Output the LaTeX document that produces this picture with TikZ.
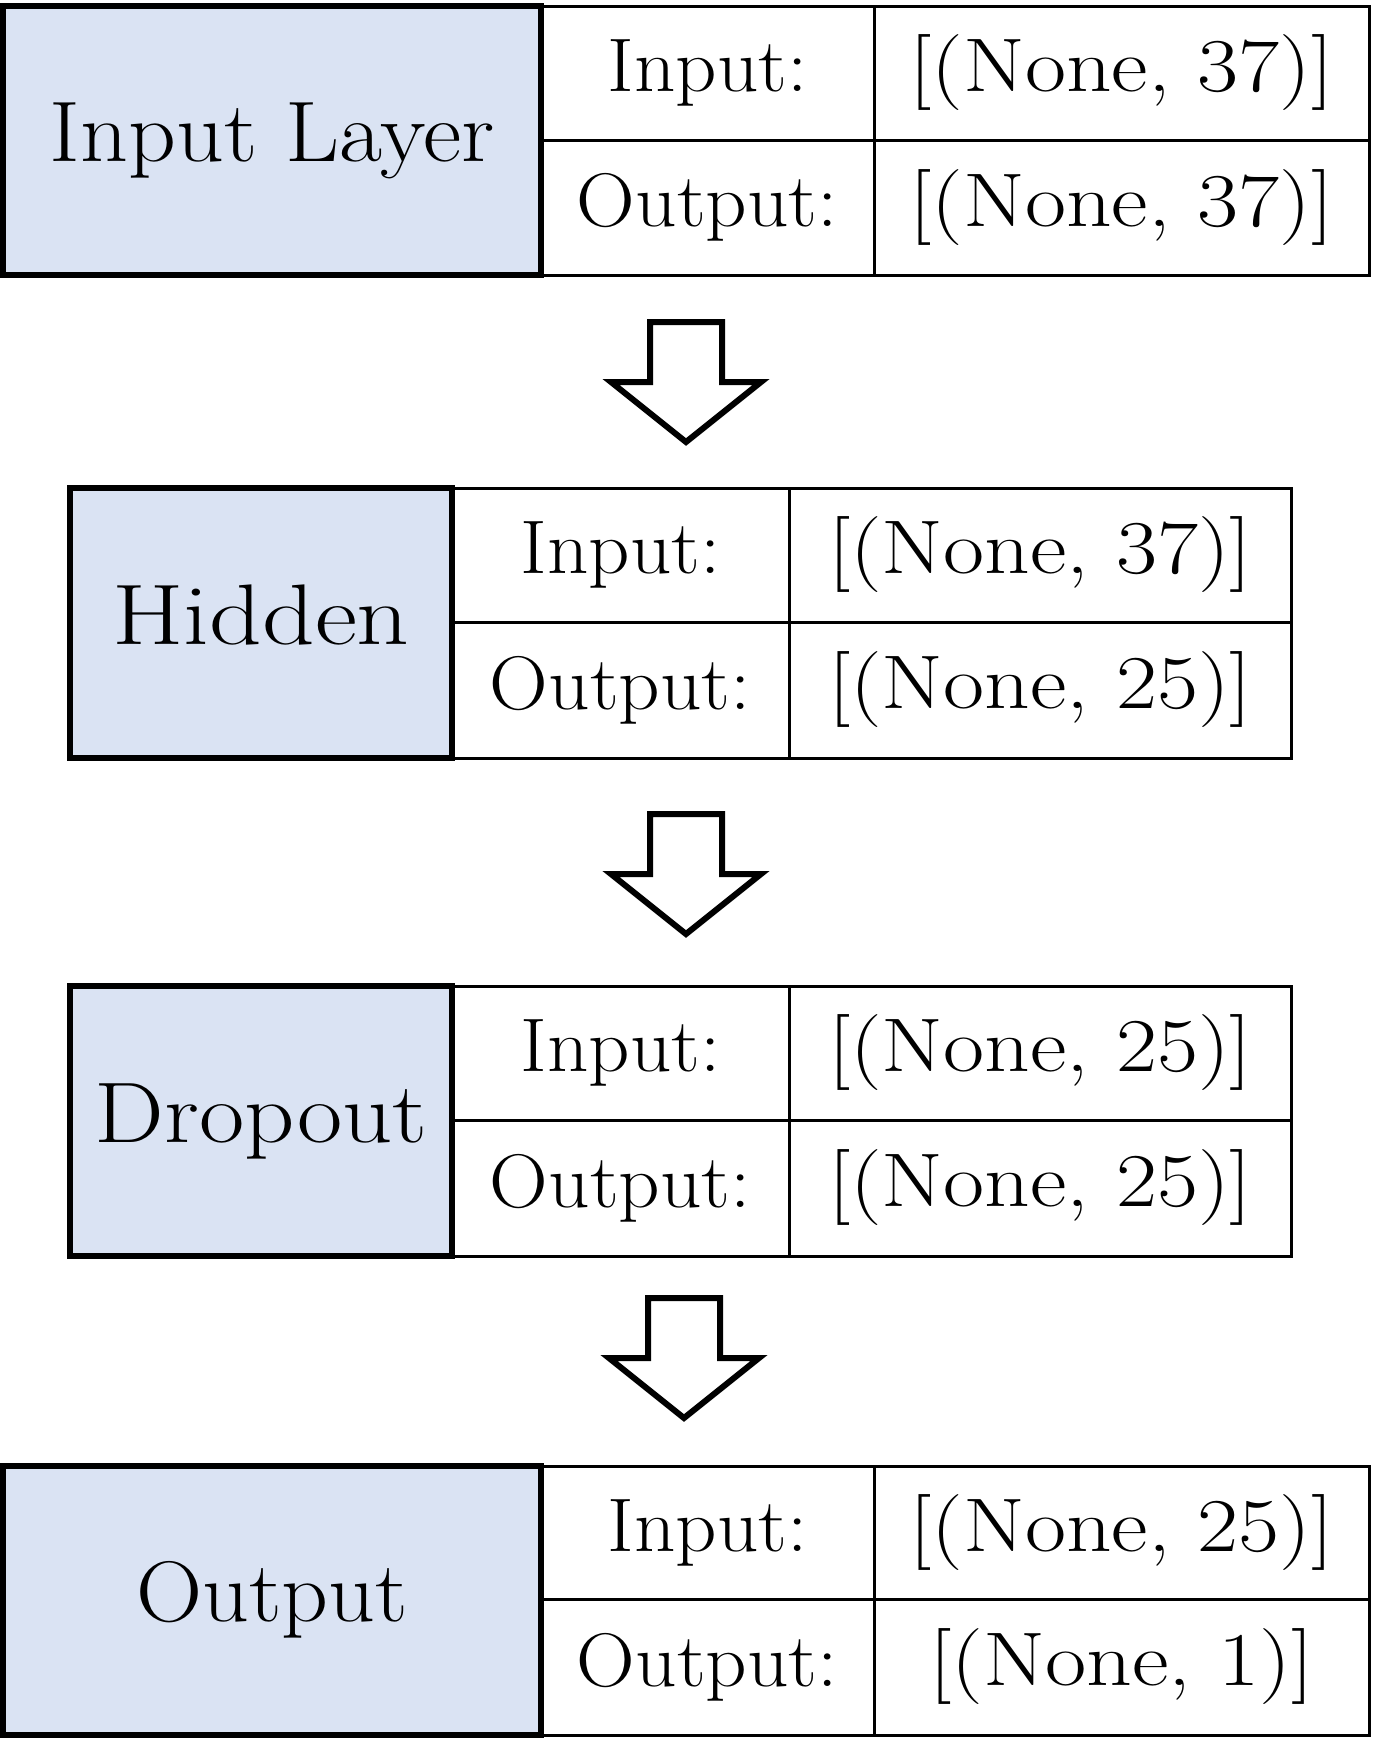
\documentclass[tikz,border=0pt]{standalone}
\usepackage{fontspec}
\usepackage{graphicx}
\definecolor{layerblue}{HTML}{DAE3F3}
\newcommand{\wide}[2]{\scalebox{#1}[1]{#2}}
\tikzset{
  layerbox/.style={draw, line width=3pt, fill=layerblue, inner sep=0pt, text height=30pt, text depth=9pt, font=\fontsize{43}{50}\selectfont},
  cellbox/.style={draw, line width=1.5pt, inner sep=0pt, font=\fontsize{38}{44}\selectfont},
  flowarrow/.style={draw, line width=3pt, fill=white, line join=miter},
  blockarrow/.pic={\draw[flowarrow] (-36,0) -- (36,0) -- (36,60) -- (75,60) -- (0,120) -- (-75,60) -- (-36,60) -- cycle;}
}
\begin{document}
\begin{tikzpicture}[x=0.5pt,y=-0.5pt]
\useasboundingbox (0,0) rectangle (1373,1747);
% Block 1
\node[cellbox, minimum width=166.5pt, minimum height=67pt] (in1l) at (707.5,73) {\wide{1.067}{Input:}};
\node[cellbox, minimum width=247.5pt, minimum height=67pt] (in1v) at (1121.5,73) {\wide{1.175}{[(None, 37)]}};
\node[cellbox, minimum width=166.5pt, minimum height=67.5pt] (out1l) at (707.5,207.5) {\wide{1.07}{Output:}};
\node[cellbox, minimum width=247.5pt, minimum height=67.5pt] (out1v) at (1121.5,207.5) {\wide{1.175}{[(None, 37)]}};
\node[layerbox, minimum width=269pt, minimum height=134.5pt] (inputlayer) at (272,140.5) {\wide{1.09}{Input Layer}};
% Arrow 1
\pic at (686,322) {blockarrow};
% Block 2
\node[cellbox, minimum width=168.5pt, minimum height=67pt] (in2l) at (620.5,555) {\wide{1.067}{Input:}};
\node[cellbox, minimum width=251pt, minimum height=67pt] (in2v) at (1040,555) {\wide{1.175}{[(None, 37)]}};
\node[cellbox, minimum width=168.5pt, minimum height=68pt] (out2l) at (620.5,690) {\wide{1.07}{Output:}};
\node[cellbox, minimum width=251pt, minimum height=68pt] (out2v) at (1040,690) {\wide{1.175}{[(None, 25)]}};
\node[layerbox, minimum width=191pt, minimum height=135pt] (hidden) at (261,623) {\wide{1.2}{Hidden}};
% Arrow 2
\pic at (686,814) {blockarrow};
% Block 3
\node[cellbox, minimum width=168.5pt, minimum height=67pt] (in3l) at (620.5,1053) {\wide{1.067}{Input:}};
\node[cellbox, minimum width=251pt, minimum height=67pt] (in3v) at (1040,1053) {\wide{1.175}{[(None, 25)]}};
\node[cellbox, minimum width=168.5pt, minimum height=68pt] (out3l) at (620.5,1188) {\wide{1.07}{Output:}};
\node[cellbox, minimum width=251pt, minimum height=68pt] (out3v) at (1040,1188) {\wide{1.175}{[(None, 25)]}};
\node[layerbox, minimum width=191pt, minimum height=135pt] (dropout) at (261,1121) {\wide{1.145}{Dropout}};
% Arrow 3
\pic at (684,1298) {blockarrow};
% Block 4
\node[cellbox, minimum width=166.5pt, minimum height=66.5pt] (in4l) at (707.5,1532.5) {\wide{1.067}{Input:}};
\node[cellbox, minimum width=247.5pt, minimum height=66.5pt] (in4v) at (1121.5,1532.5) {\wide{1.175}{[(None, 25)]}};
\node[cellbox, minimum width=166.5pt, minimum height=68pt] (out4l) at (707.5,1667) {\wide{1.07}{Output:}};
\node[cellbox, minimum width=247.5pt, minimum height=68pt] (out4v) at (1121.5,1667) {\wide{1.18}{[(None, 1)]}};
\node[layerbox, minimum width=269pt, minimum height=134.5pt] (outputlayer) at (272,1600.5) {\wide{1.067}{Output}};
\end{tikzpicture}
\end{document}
